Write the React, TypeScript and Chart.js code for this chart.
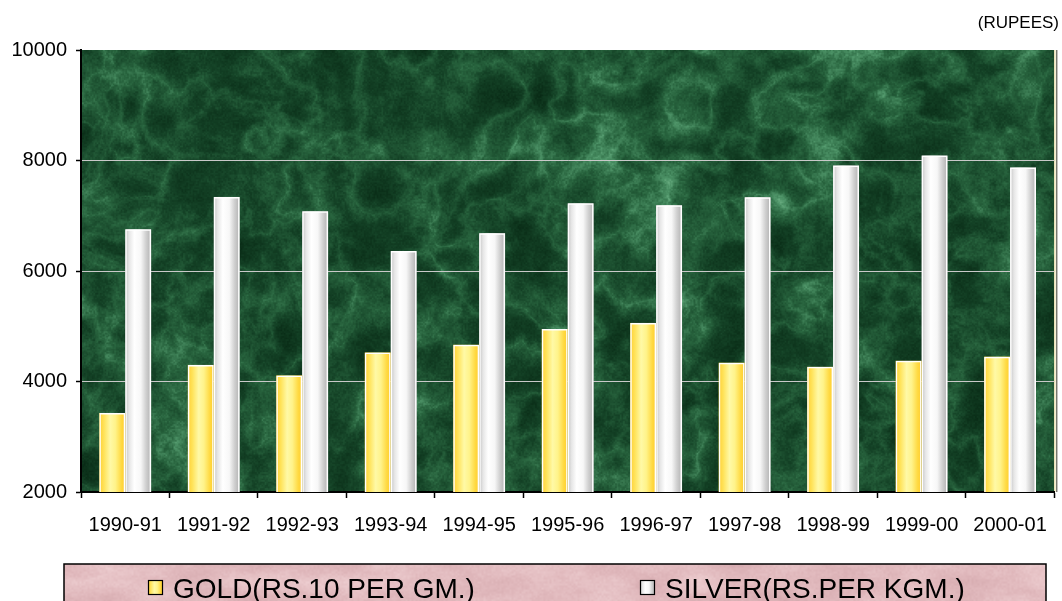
import React, { useEffect, useRef } from 'react';
import { Chart, registerables } from 'chart.js';

Chart.register(...registerables);

// ---------- data ----------
const categories = ['1990-91', '1991-92', '1992-93', '1993-94', '1994-95', '1995-96', '1996-97', '1997-98', '1998-99', '1999-00', '2000-01'];
const goldValues = [3430, 4300, 4110, 4525, 4665, 4950, 5060, 4340, 4265, 4375, 4450];
const silverValues = [6755, 7340, 7080, 6360, 6685, 7225, 7190, 7335, 7910, 8090, 7875];
const seriesLabels = ['GOLD(RS.10 PER GM.)', 'SILVER(RS.PER KGM.)'];
const yTicks = [2000, 4000, 6000, 8000, 10000];
const unitLabel = '(RUPEES)';

// ---------- styling ----------
const FONT = "'Liberation Sans', Arial, sans-serif";
const goldStops: [number, string][] = [
  [0, '#FFCF35'], [0.18, '#FFE35A'], [0.42, '#FFF9A6'], [0.62, '#FFF38A'], [0.85, '#FFD941'], [1, '#FFCC2E'],
];
const silverStops: [number, string][] = [
  [0, '#C2C2C2'], [0.15, '#E6E6E6'], [0.35, '#FFFFFF'], [0.6, '#F7F7F7'], [0.8, '#D0D0D0'], [0.92, '#BDBDBD'], [1, '#D6D6D6'],
];
const seriesStops = [goldStops, silverStops];

// ---------- deterministic texture noise ----------
function hash(ix: number, iy: number, seed: number) {
  let h = Math.imul(ix, 374761393) ^ Math.imul(iy, 668265263) ^ Math.imul(seed, 1442695041);
  h = Math.imul(h ^ (h >>> 13), 1274126177);
  h ^= h >>> 16;
  return (h >>> 0) / 4294967295;
}
function vnoise(x: number, y: number, seed: number) {
  const ix = Math.floor(x), iy = Math.floor(y);
  const fx = x - ix, fy = y - iy;
  const ux = fx * fx * (3 - 2 * fx), uy = fy * fy * (3 - 2 * fy);
  const a = hash(ix, iy, seed), b = hash(ix + 1, iy, seed), c = hash(ix, iy + 1, seed), d = hash(ix + 1, iy + 1, seed);
  return a + (b - a) * ux + (c - a) * uy + (a - b - c + d) * ux * uy;
}
function fbm(x: number, y: number, seed: number, oct: number) {
  let sum = 0, amp = 0.5, f = 1, norm = 0;
  for (let i = 0; i < oct; i++) {
    sum += amp * vnoise(x * f, y * f, seed + i * 31);
    norm += amp; amp *= 0.5; f *= 2;
  }
  return sum / norm;
}
function lerpStops(t: number, stops: [number, number[]][]) {
  if (t <= stops[0][0]) return stops[0][1];
  for (let i = 1; i < stops.length; i++) {
    if (t <= stops[i][0]) {
      const [t0, c0] = stops[i - 1];
      const [t1, c1] = stops[i];
      const k = (t - t0) / (t1 - t0);
      return [c0[0] + (c1[0] - c0[0]) * k, c0[1] + (c1[1] - c0[1]) * k, c0[2] + (c1[2] - c0[2]) * k];
    }
  }
  return stops[stops.length - 1][1];
}
const greenMap: [number, number[]][] = [
  [0, [6, 38, 18]], [0.3, [20, 66, 38]], [0.55, [40, 100, 62]], [0.78, [76, 146, 102]], [1, [128, 194, 150]],
];
const pinkMap: [number, number[]][] = [
  [0, [205, 160, 165]], [0.5, [224, 184, 188]], [1, [242, 214, 216]],
];
function makeTexture(w: number, h: number, kind: 'green' | 'pink') {
  const c = document.createElement('canvas');
  c.width = Math.max(1, Math.round(w));
  c.height = Math.max(1, Math.round(h));
  const g = c.getContext('2d')!;
  const img = g.createImageData(c.width, c.height);
  const d = img.data;
  for (let y = 0; y < c.height; y++) {
    for (let x = 0; x < c.width; x++) {
      let col: number[];
      if (kind === 'green') {
        const cloud = fbm(x / 50, y / 50, 11, 5);
        const wx = x / 40 + 1.4 * fbm(x / 80, y / 80, 23, 3);
        const wy = y / 40 + 1.4 * fbm(x / 80 + 7, y / 80 + 7, 37, 3);
        const r = 1 - Math.abs(2 * fbm(wx, wy, 41, 5) - 1);
        const vein = Math.pow(r, 3);
        const blot = Math.max(0, fbm(x / 28, y / 28, 71, 4) - 0.55) * 1.6;
        const grain = vnoise(x / 1.6, y / 1.6, 53) - 0.5;
        let t = 0.06 + 0.55 * cloud * cloud + 0.34 * vein + 0.35 * blot + 0.14 * grain;
        t = Math.min(1, Math.max(0, t));
        col = lerpStops(t, greenMap);
      } else {
        const n = fbm(x / 45, y / 18, 61, 4);
        const grain = vnoise(x / 2, y / 2, 67) - 0.5;
        let t = 0.2 + 0.7 * n + 0.15 * grain;
        t = Math.min(1, Math.max(0, t));
        col = lerpStops(t, pinkMap);
      }
      const i = (y * c.width + x) * 4;
      d[i] = col[0]; d[i + 1] = col[1]; d[i + 2] = col[2]; d[i + 3] = 255;
    }
  }
  g.putImageData(img, 0, 0);
  return c;
}

function makeGradient(ctx: CanvasRenderingContext2D, left: number, width: number, stops: [number, string][]) {
  const g = ctx.createLinearGradient(left, 0, left + width, 0);
  stops.forEach(([o, c]) => g.addColorStop(o, c));
  return g;
}

export default function App() {
  const ref = useRef<HTMLCanvasElement>(null);

  useEffect(() => {
    if (!ref.current) return;
    let greenTex: HTMLCanvasElement | null = null;
    let pinkTex: HTMLCanvasElement | null = null;

    const decorPlugin = {
      id: 'decor',
      beforeDraw(chart: any) {
        const { ctx, chartArea: a } = chart;
        const w = a.right - a.left, h = a.bottom - a.top;
        if (!greenTex || greenTex.width !== Math.round(w) || greenTex.height !== Math.round(h)) {
          greenTex = makeTexture(w, h, 'green');
        }
        ctx.save();
        ctx.drawImage(greenTex, a.left, a.top, w, h);
        ctx.strokeStyle = '#E9E2B4';
        ctx.lineWidth = 1.5;
        ctx.beginPath();
        ctx.moveTo(a.right + 0.5, a.top);
        ctx.lineTo(a.right + 0.5, a.bottom);
        ctx.stroke();
        ctx.strokeStyle = '#3a3a2a';
        ctx.lineWidth = 1;
        ctx.beginPath();
        ctx.moveTo(a.right + 2.5, a.top);
        ctx.lineTo(a.right + 2.5, a.bottom);
        ctx.stroke();
        ctx.restore();
      },
      beforeDatasetDraw(chart: any, args: any) {
        const { ctx, chartArea: a } = chart;
        const stops = seriesStops[args.index];
        ctx.save();
        ctx.beginPath();
        ctx.rect(a.left, a.top, a.right - a.left, a.bottom - a.top);
        ctx.clip();
        args.meta.data.forEach((el: any) => {
          const { x, y, base, width } = el.getProps(['x', 'y', 'base', 'width'], true);
          const left = x - width / 2;
          ctx.fillStyle = makeGradient(ctx, left, width, stops);
          ctx.fillRect(left, Math.min(y, base), width, Math.abs(base - y));
        });
        ctx.restore();
      },
      afterDraw(chart: any) {
        const { ctx } = chart;
        ctx.save();
        ctx.font = `17px ${FONT}`;
        ctx.fillStyle = '#000';
        ctx.textAlign = 'right';
        ctx.textBaseline = 'alphabetic';
        ctx.fillText(unitLabel, 1059, 27.5);

        const boxL = 64, boxT = 564, boxR = 1046, boxB = 612;
        if (!pinkTex) pinkTex = makeTexture(boxR - boxL, boxB - boxT, 'pink');
        ctx.drawImage(pinkTex, boxL, boxT);
        ctx.strokeStyle = '#000';
        ctx.lineWidth = 1.5;
        ctx.strokeRect(boxL, boxT, boxR - boxL, boxB - boxT);

        const colW = (boxR - boxL) / 2;
        chart.data.datasets.forEach((ds: any, i: number) => {
          const mx = boxL + 84 + i * (colW + 1);
          const my = 580;
          const ms = 15;
          ctx.fillStyle = makeGradient(ctx, mx, ms, seriesStops[i]);
          ctx.fillRect(mx, my, ms, ms);
          ctx.strokeStyle = '#000';
          ctx.lineWidth = 1.2;
          ctx.strokeRect(mx + 0.5, my + 0.5, ms - 1, ms - 1);
          ctx.font = `28px ${FONT}`;
          ctx.fillStyle = '#000';
          ctx.textAlign = 'left';
          ctx.textBaseline = 'alphabetic';
          ctx.fillText(ds.label, mx + 25, 598);
        });
        ctx.restore();
      },
    };

    const chart = new Chart(ref.current, {
      type: 'bar',
      data: {
        labels: categories,
        datasets: [
          {
            label: seriesLabels[0],
            data: goldValues,
            backgroundColor: 'rgba(0,0,0,0)',
            borderColor: '#FFFFFF',
            borderWidth: 1.5,
          },
          {
            label: seriesLabels[1],
            data: silverValues,
            backgroundColor: 'rgba(0,0,0,0)',
            borderColor: '#FFFFFF',
            borderWidth: 1.5,
          },
        ],
      },
      options: {
        responsive: false,
        animation: false,
        devicePixelRatio: 1,
        layout: { padding: { top: 50, right: 5, left: 0, bottom: 0 } },
        datasets: { bar: { categoryPercentage: 0.586, barPercentage: 1 } },
        plugins: {
          legend: { display: false },
          tooltip: { enabled: false },
          title: { display: false },
        },
        scales: {
          x: {
            type: 'category',
            grid: {
              display: true,
              drawOnChartArea: false,
              drawTicks: true,
              tickLength: 6,
              tickColor: '#000',
              tickWidth: 1.5,
              offset: true,
            },
            border: { display: true, color: '#000', width: 2 },
            ticks: {
              color: '#000',
              font: { family: FONT, size: 20 },
              padding: 15,
              maxRotation: 0,
              autoSkip: false,
            },
            afterFit: (s: any) => { s.height = 109; },
          },
          y: {
            min: 2000,
            max: 10000,
            afterBuildTicks: (s: any) => { s.ticks = yTicks.map((v) => ({ value: v })); },
            ticks: {
              color: '#000',
              font: { family: FONT, size: 20 },
              padding: 9,
              callback: (v: any) => String(v),
            },
            grid: {
              color: (c: any) => (c.tick && (c.tick.value === 10000 || c.tick.value === 2000) ? 'rgba(0,0,0,0)' : '#C9C9C9'),
              lineWidth: 1,
              tickLength: 5,
              tickColor: '#000',
              tickWidth: 1.5,
            },
            border: { display: true, color: '#000', width: 2 },
            afterFit: (s: any) => { s.width = 81; },
          },
        },
      },
      plugins: [decorPlugin],
    } as any);

    return () => chart.destroy();
  }, []);

  return (
    <div style={{ position: 'absolute', left: 0, top: 0, width: 1062, height: 601, background: '#fff' }}>
      <canvas ref={ref} width={1062} height={601} style={{ display: 'block' }} />
    </div>
  );
}
